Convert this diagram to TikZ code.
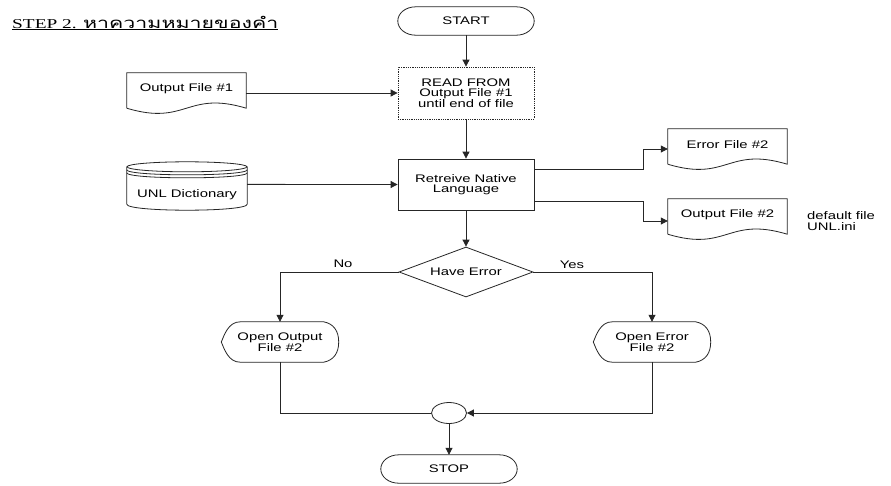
\documentclass[tikz,border=0pt]{standalone}
\usepackage{fontspec}
\usepackage{graphicx}
\setmainfont{Liberation Sans}[FakeStretch=1.35]
\newfontfamily\titleserif{Liberation Serif}
\newfontfamily\thaifont[Script=Thai]{Loma}
\usetikzlibrary{arrows.meta,shapes.geometric,calc}

\tikzset{
  base/.style={font=\fontsize{11}{10.5}\selectfont, align=center, inner sep=0pt},
  link/.style={line width=0.8pt, draw=black!85},
  arr/.style={link, -{Triangle[length=7pt,width=7pt]}},
  termbox/.style={base, minimum width=136pt, minimum height=28pt},
  process/.style={base, link, rectangle, minimum width=136pt, minimum height=51pt},
  readbox/.style={process, densely dotted, minimum height=52pt},
  decision/.style={base, link, diamond, shape aspect=2.7, minimum width=134pt, minimum height=50pt},
  docbox/.style={base, minimum width=119pt, minimum height=31pt},
  dispbox/.style={base, minimum width=117pt, minimum height=40pt},
  dbbox/.style={base, minimum width=120pt, minimum height=30pt},
  junction/.style={link, ellipse, minimum width=35pt, minimum height=21pt, inner sep=0pt},
}

% terminal: flat top and bottom, elliptical ends
\newcommand\termoutline[1]{%
  \draw[link] ($(#1.north west)+(18,0)$) -- ($(#1.north east)+(-18,0)$)
    .. controls ($(#1.north east)+(-8,0)$) and ($(#1.east)+(0,-8)$) .. (#1.east)
    .. controls ($(#1.east)+(0,8)$) and ($(#1.south east)+(-8,0)$) .. ($(#1.south east)+(-18,0)$)
    -- ($(#1.south west)+(18,0)$)
    .. controls ($(#1.south west)+(8,0)$) and ($(#1.west)+(0,8)$) .. (#1.west)
    .. controls ($(#1.west)+(0,-8)$) and ($(#1.north west)+(8,0)$) .. cycle;}
% document: wavy lower edge
\newcommand\docoutline[1]{%
  \draw[link] ($(#1.south west)+(0,4)$) -- (#1.north west) -- (#1.north east)
    -- ($(#1.south east)+(0,4)$)
    .. controls ($(#1.south)+(0,-14)$) and ($(#1.south)+(0,22)$) .. ($(#1.south west)+(0,4)$);}
% display: curved left side meeting in a blunt point, arc on the right
\newcommand\dispoutline[1]{%
  \draw[link] ($(#1.north west)+(19,0)$) -- ($(#1.north east)+(-15,0)$)
    .. controls ($(#1.north east)+(-5,2)$) and ($(#1.east)+(0,-11)$) .. (#1.east)
    .. controls ($(#1.east)+(0,11)$) and ($(#1.south east)+(-5,-2)$) .. ($(#1.south east)+(-15,0)$)
    -- ($(#1.south west)+(19,0)$)
    .. controls ($(#1.south west)+(7,0)$) and ($(#1.west)+(3,7)$) .. (#1.west)
    .. controls ($(#1.west)+(3,-7)$) and ($(#1.north west)+(7,0)$) .. cycle;}
% stored data: cylinder with two rims under the lid
\newcommand\dboutline[1]{%
  \draw[link] ($(#1.north)+(0,-13)$) ellipse [x radius=60pt, y radius=5pt];
  \draw[link] ($(#1.north west)+(0,-10)$) .. controls ($(#1.north west)+(0,-3.3)$)
    and ($(#1.north east)+(0,-3.3)$) .. ($(#1.north east)+(0,-10)$);
  \draw[link] ($(#1.north west)+(0,-7)$) .. controls ($(#1.north west)+(0,-0.3)$)
    and ($(#1.north east)+(0,-0.3)$) .. ($(#1.north east)+(0,-7)$);
  \draw[link] ($(#1.north west)+(0,-13)$) -- ($(#1.south west)+(0,-6)$)
    .. controls ($(#1.south west)+(0,2)$) and ($(#1.south east)+(0,2)$) .. ($(#1.south east)+(0,-6)$)
    -- ($(#1.north east)+(0,-13)$);}

\begin{document}
\begin{tikzpicture}[x=1pt,y=-1pt]
  \useasboundingbox[fill=white] (0,0) rectangle (891,485);

  % heading
  \node[anchor=base west, inner sep=0pt] (title) at (12,28)
    {\titleserif\fontsize{13.6}{15}\selectfont
     \resizebox{266pt}{\height}{\underline{STEP 2. {\thaifont\fontsize{15}{15}\selectfont หาความหมายของคำ}}}};

  % main column
  \node[termbox] (start) at (466,21) {START};
  \termoutline{start}
  \node[readbox] (rd) at (466,93) {READ FROM\\Output File \#1\\until end of file};
  \node[process] (rt) at (466,184.5) {Retreive Native\\Language};
  \node[decision] (he) at (466,272) {Have Error};

  % inputs
  \node[docbox] (of1) at (186.5,88.5) {Output File \#1};
  \docoutline{of1}
  \node[dbbox] (ud) at (187,195) {UNL Dictionary};
  \dboutline{ud}

  % outputs
  \node[docbox] (ef2) at (727.5,144.5) {Error File \#2};
  \docoutline{ef2}
  \node[docbox] (of2) at (727.5,214.5) {Output File \#2};
  \docoutline{of2}
  \node[base, align=left, anchor=west] (note) at (807,221) {default file\\UNL.ini};

  % branches
  \node[dispbox] (oo) at (280,342) {Open Output\\File \#2};
  \dispoutline{oo}
  \node[dispbox] (oe) at (652,342) {Open Error\\File \#2};
  \dispoutline{oe}
  \node[base] (lno) at (343,264) {No};
  \node[base] (lyes) at (572,265) {Yes};

  \node[junction] (conn) at (449,413) {};
  \node[termbox] (stop) at (449,469) {STOP};
  \termoutline{stop}

  % connectors
  \draw[arr] (start.south) -- (rd.north);
  \draw[arr] (of1.east |- rd.west) -- (rd.west);
  \draw[arr] (rd.south) -- (rt.north);
  \draw[arr] ($(ud.north east)!0.15!(ud.south east)$) -- (rt.west);
  \draw[arr] ([yshift=15.5pt]rt.east) -| ([xshift=-24pt,yshift=-4.5pt]ef2.west) -- ([yshift=-4.5pt]ef2.west);
  \draw[arr] ([yshift=-16.5pt]rt.east) -| ([xshift=-24pt,yshift=-6.5pt]of2.west) -- ([yshift=-6.5pt]of2.west);
  \draw[arr] (rt.south) -- (he.north);
  \draw[arr] (he.west) -| (oo.north);
  \draw[arr] (he.east) -| (oe.north);
  \draw[link] (oo.south) |- (conn.west);
  \draw[arr] (oe.south) |- (conn.east);
  \draw[arr] (conn.south) -- (stop.north);
\end{tikzpicture}
\end{document}
